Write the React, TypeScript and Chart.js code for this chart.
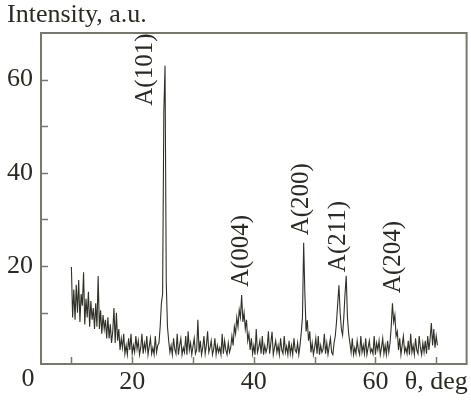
import React, { useEffect, useRef } from "react";
import { Chart, registerables } from "chart.js";

Chart.register(...registerables);

// Diffraction angle grid (deg) and measured intensity (a.u.)
const ANGLE_START = 10;
const ANGLE_STEP = 0.2;
const intensity: number[] = [
  // 10
  19.8, 9, 15, 8.5, 16,
  // 11
  10, 17, 8, 14, 11.5,
  // 12
  18.7, 7.5, 13, 9, 14.5,
  // 13
  7, 12.5, 8.5, 11, 6.5,
  // 14
  12, 7, 17.9, 6.5, 10.5,
  // 15
  5.5, 9.5, 6.5, 8.5, 4.5,
  // 16
  9, 4.5, 7.5, 3.5, 6,
  // 17
  11, 3.5, 10, 4, 6.5,
  // 18
  2, 4.5, 2.5, 5.5, 1.2,
  // 19
  3, 1, 4.5, 2, 5.5,
  // 20
  1.2, 3, 1.5, 5, 2.2,
  // 21
  4, 1, 2.5, 5.5, 1.2,
  // 22
  3.5, 2, 5, 1, 2.8,
  // 23
  4.5, 1.2, 2.5, 1, 5,
  // 24
  1.5, 3, 3.5, 7, 12,
  // 25
  14, 53, 63, 16.6, 7,
  // 26
  4, 1.5, 3, 1, 4.5,
  // 27
  2.2, 1.2, 5.5, 1, 3,
  // 28
  4.5, 1, 2.5, 1.5, 5,
  // 29
  1, 6, 2, 3.5, 1,
  // 30
  2.8, 4.5, 1.2, 2, 8.5,
  // 31
  1.5, 4, 1, 2.5, 5,
  // 32
  1.2, 3, 6, 1.5, 2.5,
  // 33
  4, 1, 2.2, 4.5, 1,
  // 34
  3, 1.5, 2.5, 1, 5.5,
  // 35
  1.2, 4, 2, 1, 3.5,
  // 36
  1.5, 2.5, 5, 3, 7,
  // 37
  5.5, 9, 7, 10.6, 9,
  // 38
  13.8, 8, 10, 6.5, 8.5,
  // 39
  4, 5.5, 2, 4.5, 1.2,
  // 40
  3, 1, 6.5, 1.5, 2.5,
  // 41
  4, 1.2, 5, 1, 3,
  // 42
  1.5, 2.5, 6, 1.2, 3.5,
  // 43
  5.9, 1, 2.5, 4, 1.5,
  // 44
  3, 1, 4.5, 2, 1.2,
  // 45
  5, 1.5, 2.8, 1, 4,
  // 46
  1.2, 3, 1, 4.5, 2,
  // 47
  1.5, 3.5, 1, 3, 5.7,
  // 48
  9, 25, 14, 6, 8.4,
  // 49
  4, 6, 1.5, 3.5, 1,
  // 50
  2.5, 4.5, 1.2, 5, 1,
  // 51
  3, 1.5, 2.2, 5.5, 1.2,
  // 52
  3.5, 1, 2.8, 4.5, 1.5,
  // 53
  1, 3.5, 5, 8, 12,
  // 54
  15.9, 10, 6.5, 5.2, 9,
  // 55
  14, 17.9, 9, 5.5, 3.5,
  // 56
  1.5, 4.5, 1, 2.5, 1.2,
  // 57
  4, 2, 1, 5, 1.5,
  // 58
  3, 1.2, 4.5, 1, 2.5,
  // 59
  4, 1.5, 2.2, 1.2, 5,
  // 60
  1, 3.5, 2, 4, 1,
  // 61
  2.5, 4.5, 1.2, 3, 1,
  // 62
  4, 1.5, 3.5, 7, 12,
  // 63
  8, 9.5, 5, 6, 2,
  // 64
  4.5, 1, 3, 5, 1.5,
  // 65
  2.5, 1.2, 4, 1, 5.5,
  // 66
  1.5, 3, 1, 4.5, 2,
  // 67
  1.2, 5, 2.5, 1, 3.5,
  // 68
  1.5, 4, 1.2, 5, 2,
  // 69
  4.5, 7.8, 3, 6.5, 2.5,
  // 70
  5, 3,
];

// Peak annotations (label, angle, intensity where the label starts)
const peakLabels = ["A(101)", "A(004)", "A(200)", "A(211)", "A(204)"];
const peakLabelAngle = [22.1, 38.0, 47.8, 54.0, 63.0];
const peakLabelIntensity = [54.4, 15.5, 26.6, 18.7, 14.2];

// Axis ticks
const xTickValues = [20, 40, 60, 70];
const xTickLabels = ["20", "40", "60", "θ, deg"];
const xMinorTicks = [10, 20, 30, 40, 50, 60, 70];
const yTickValues = [20, 40, 60];
const yMinorTicks = [10, 20, 30, 40, 50, 60];
const yAxisTitle = "Intensity, a.u.";
const originLabel = "0";

const FONT = "'Liberation Serif', 'Times New Roman', serif";
const TEXT = "#2a2a22";
const AXIS = "#77776a";

export default function App() {
  const ref = useRef<HTMLCanvasElement | null>(null);

  useEffect(() => {
    if (!ref.current) return;
    const points = intensity.map((y, i) => ({
      x: +(ANGLE_START + i * ANGLE_STEP).toFixed(2),
      y,
    }));

    const decor = {
      id: "decor",
      afterDraw(chart: any) {
        const { ctx, chartArea: a, scales } = chart;
        const xs = scales.x;
        const ys = scales.y;
        ctx.save();
        // frame
        ctx.strokeStyle = AXIS;
        ctx.lineWidth = 2;
        ctx.strokeRect(a.left, a.top, a.right - a.left, a.bottom - a.top);
        // inward ticks
        ctx.lineWidth = 1.5;
        ctx.beginPath();
        xMinorTicks.forEach((v) => {
          const px = Math.round(xs.getPixelForValue(v)) + 0.5;
          ctx.moveTo(px, a.bottom);
          ctx.lineTo(px, a.bottom - 7);
        });
        yMinorTicks.forEach((v) => {
          const py = Math.round(ys.getPixelForValue(v)) + 0.5;
          ctx.moveTo(a.left, py);
          ctx.lineTo(a.left + 7, py);
        });
        ctx.stroke();
        // texts
        ctx.fillStyle = TEXT;
        ctx.font = `26px ${FONT}`;
        ctx.textAlign = "left";
        ctx.textBaseline = "alphabetic";
        ctx.fillText(yAxisTitle, 7, a.top - 11);
        ctx.textAlign = "center";
        ctx.textBaseline = "top";
        ctx.fillText(originLabel, a.left - 13, xs.top + 2);
        ctx.font = `25px ${FONT}`;
        peakLabels.forEach((t, i) => {
          const px = xs.getPixelForValue(peakLabelAngle[i]);
          const py = ys.getPixelForValue(peakLabelIntensity[i]);
          ctx.save();
          ctx.translate(px, py);
          ctx.rotate(-Math.PI / 2);
          ctx.textAlign = "left";
          ctx.textBaseline = "middle";
          ctx.fillText(t, 0, 0);
          ctx.restore();
        });
        ctx.restore();
      },
    };

    const chart = new Chart(ref.current, {
      type: "line",
      data: {
        datasets: [
          {
            data: points,
            borderColor: "#303026",
            borderWidth: 1.1,
            pointRadius: 0,
            tension: 0,
          },
        ],
      },
      options: {
        animation: false,
        responsive: false,
        devicePixelRatio: 1,
        layout: { padding: { left: 0, right: 4, top: 33, bottom: 0 } },
        plugins: {
          legend: { display: false },
          tooltip: { enabled: false },
          title: { display: false },
        },
        scales: {
          x: {
            type: "linear",
            min: 5,
            max: 75,
            grid: { display: false, drawTicks: false },
            border: { display: false },
            afterBuildTicks: (s: any) => {
              s.ticks = xMinorTicks.map((v) => ({ value: v }));
            },
            ticks: {
              autoSkip: false,
              maxRotation: 0,
              padding: 3,
              color: TEXT,
              font: { family: FONT, size: 26 },
              callback: (v: any) => {
                const i = xTickValues.indexOf(Number(v));
                return i >= 0 ? xTickLabels[i] : "";
              },
            },
            afterFit: (s: any) => {
              s.height = 38;
            },
          },
          y: {
            type: "linear",
            min: -1,
            max: 70,
            grid: { display: false, drawTicks: false },
            border: { display: false },
            ticks: {
              stepSize: 10,
              autoSkip: false,
              padding: 8,
              color: TEXT,
              font: { family: FONT, size: 26 },
              callback: (v: any) =>
                yTickValues.indexOf(Number(v)) >= 0 ? String(v) : "",
            },
            afterFit: (s: any) => {
              s.width = 41;
            },
          },
        },
      },
      plugins: [decor],
    });
    return () => chart.destroy();
  }, []);

  return (
    <div
      style={{
        position: "absolute",
        left: 0,
        top: 0,
        width: 471,
        height: 402,
        background: "#fff",
      }}
    >
      <canvas ref={ref} width={471} height={402} />
    </div>
  );
}
